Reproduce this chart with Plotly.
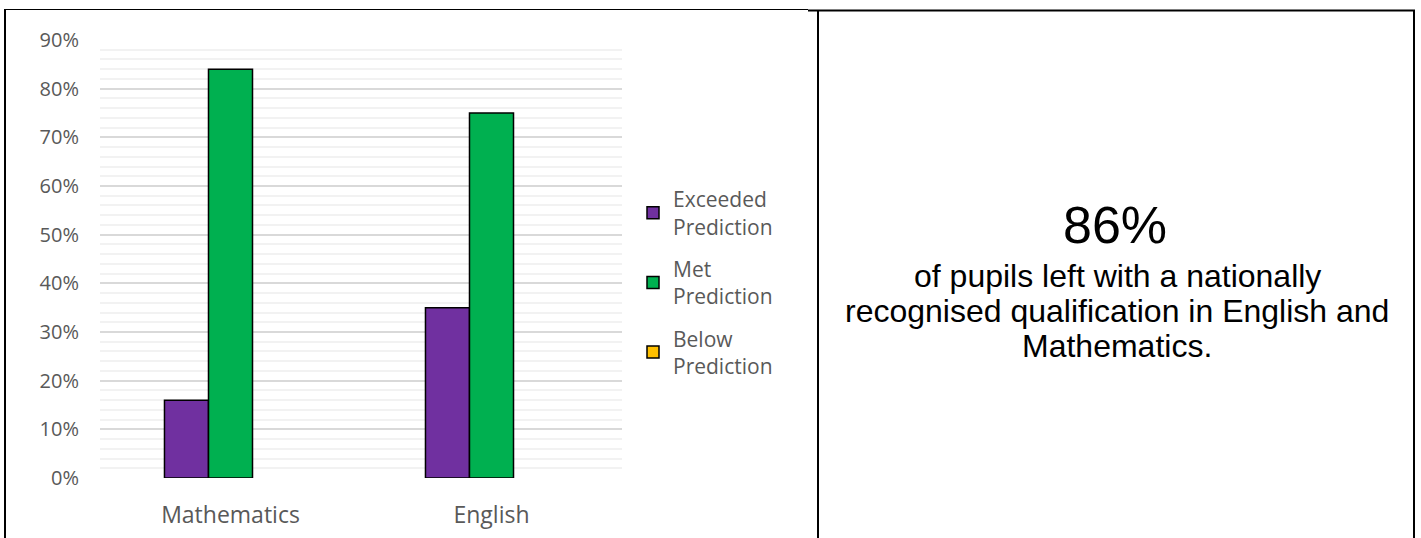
import plotly.graph_objects as go

W, H = 1421, 538

categories = ["Mathematics", "English"]
series_names = ["Exceeded<br>Prediction", "Met<br>Prediction", "Below<br>Prediction"]
exceeded = [0.16, 0.35]
met = [0.84, 0.75]
below = [0.0, 0.0]
series_values = [exceeded, met, below]
series_colors = ["#7030A0", "#00B050", "#FFC000"]

y_tick_vals = [0, 0.1, 0.2, 0.3, 0.4, 0.5, 0.6, 0.7, 0.8, 0.9]
y_tick_text = ["0%", "10%", "20%", "30%", "40%", "50%", "60%", "70%", "80%", "90%"]

headline = "86%"
caption_lines = ["of pupils left with a nationally",
                 "recognised qualification in English and",
                 "Mathematics."]

def px(x):
    return x / W

def py(y):
    return 1 - y / H

fig = go.Figure()
for i, (name, vals, col) in enumerate(zip(series_names, series_values, series_colors)):
    # zero-height bars are not drawn (as in the original chart)
    shown = [v if v > 0 else None for v in vals]
    fig.add_trace(go.Bar(
        x=categories, y=shown, name=name, legendgroup=f"g{i}",
        marker=dict(color=col, line=dict(color="#000000", width=1.5)),
    ))

grey = "#595959"
fig.update_layout(
    width=W, height=H,
    margin=dict(l=0, r=0, t=0, b=0),
    paper_bgcolor="white", plot_bgcolor="white",
    barmode="group", bargap=0.494, bargroupgap=0,
    font=dict(family="Open Sans", color=grey),
    showlegend=True,
    legend=dict(
        x=px(633), y=py(179), xanchor="left", yanchor="top",
        font=dict(family="Open Sans", size=21, color=grey),
        bgcolor="rgba(0,0,0,0)", tracegroupgap=12,
    ),
    xaxis=dict(
        domain=[px(100), px(622)], automargin=False,
        showgrid=False, showline=False, zeroline=False, ticks="",
        tickfont=dict(family="Open Sans", size=23, color=grey),
        ticklabelstandoff=21,
    ),
    yaxis=dict(
        domain=[py(478), py(40)], automargin=False,
        range=[0, 0.9], tickvals=y_tick_vals, ticktext=y_tick_text,
        showgrid=True, gridcolor="#D9D9D9", gridwidth=2,
        zeroline=False, showline=False, ticks="",
        tickfont=dict(family="Open Sans", size=20, color=grey),
        ticklabelstandoff=20,
        minor=dict(dtick=0.02, showgrid=True, gridcolor="#F2F2F2", gridwidth=2),
    ),
)

# table borders
border_segments = [
    (4, 9.5, 808, 9.5, 1),
    (808, 10.5, 1415, 10.5, 2),
    (5, 9, 5, 538, 2),
    (818, 10, 818, 538, 2),
    (1414, 10, 1414, 538, 2),
]
for x0, y0, x1, y1, w in border_segments:
    fig.add_shape(type="line", xref="paper", yref="paper",
                  x0=px(x0), y0=py(y0), x1=px(x1), y1=py(y1),
                  line=dict(color="#000000", width=w))

fig.add_annotation(xref="paper", yref="paper", x=px(1115), y=py(225),
                   text=headline, showarrow=False, xanchor="center", yanchor="middle",
                   font=dict(family="Liberation Sans", size=52, color="#000000"))
for i, line in enumerate(caption_lines):
    fig.add_annotation(xref="paper", yref="paper", x=px(1117), y=py(276 + 35 * i),
                       text=line, showarrow=False, xanchor="center", yanchor="middle",
                       font=dict(family="Liberation Sans", size=32, color="#000000"))

fig.write_html("out.html", config={"displayModeBar": False},
               post_script="document.body.style.margin='0';")
